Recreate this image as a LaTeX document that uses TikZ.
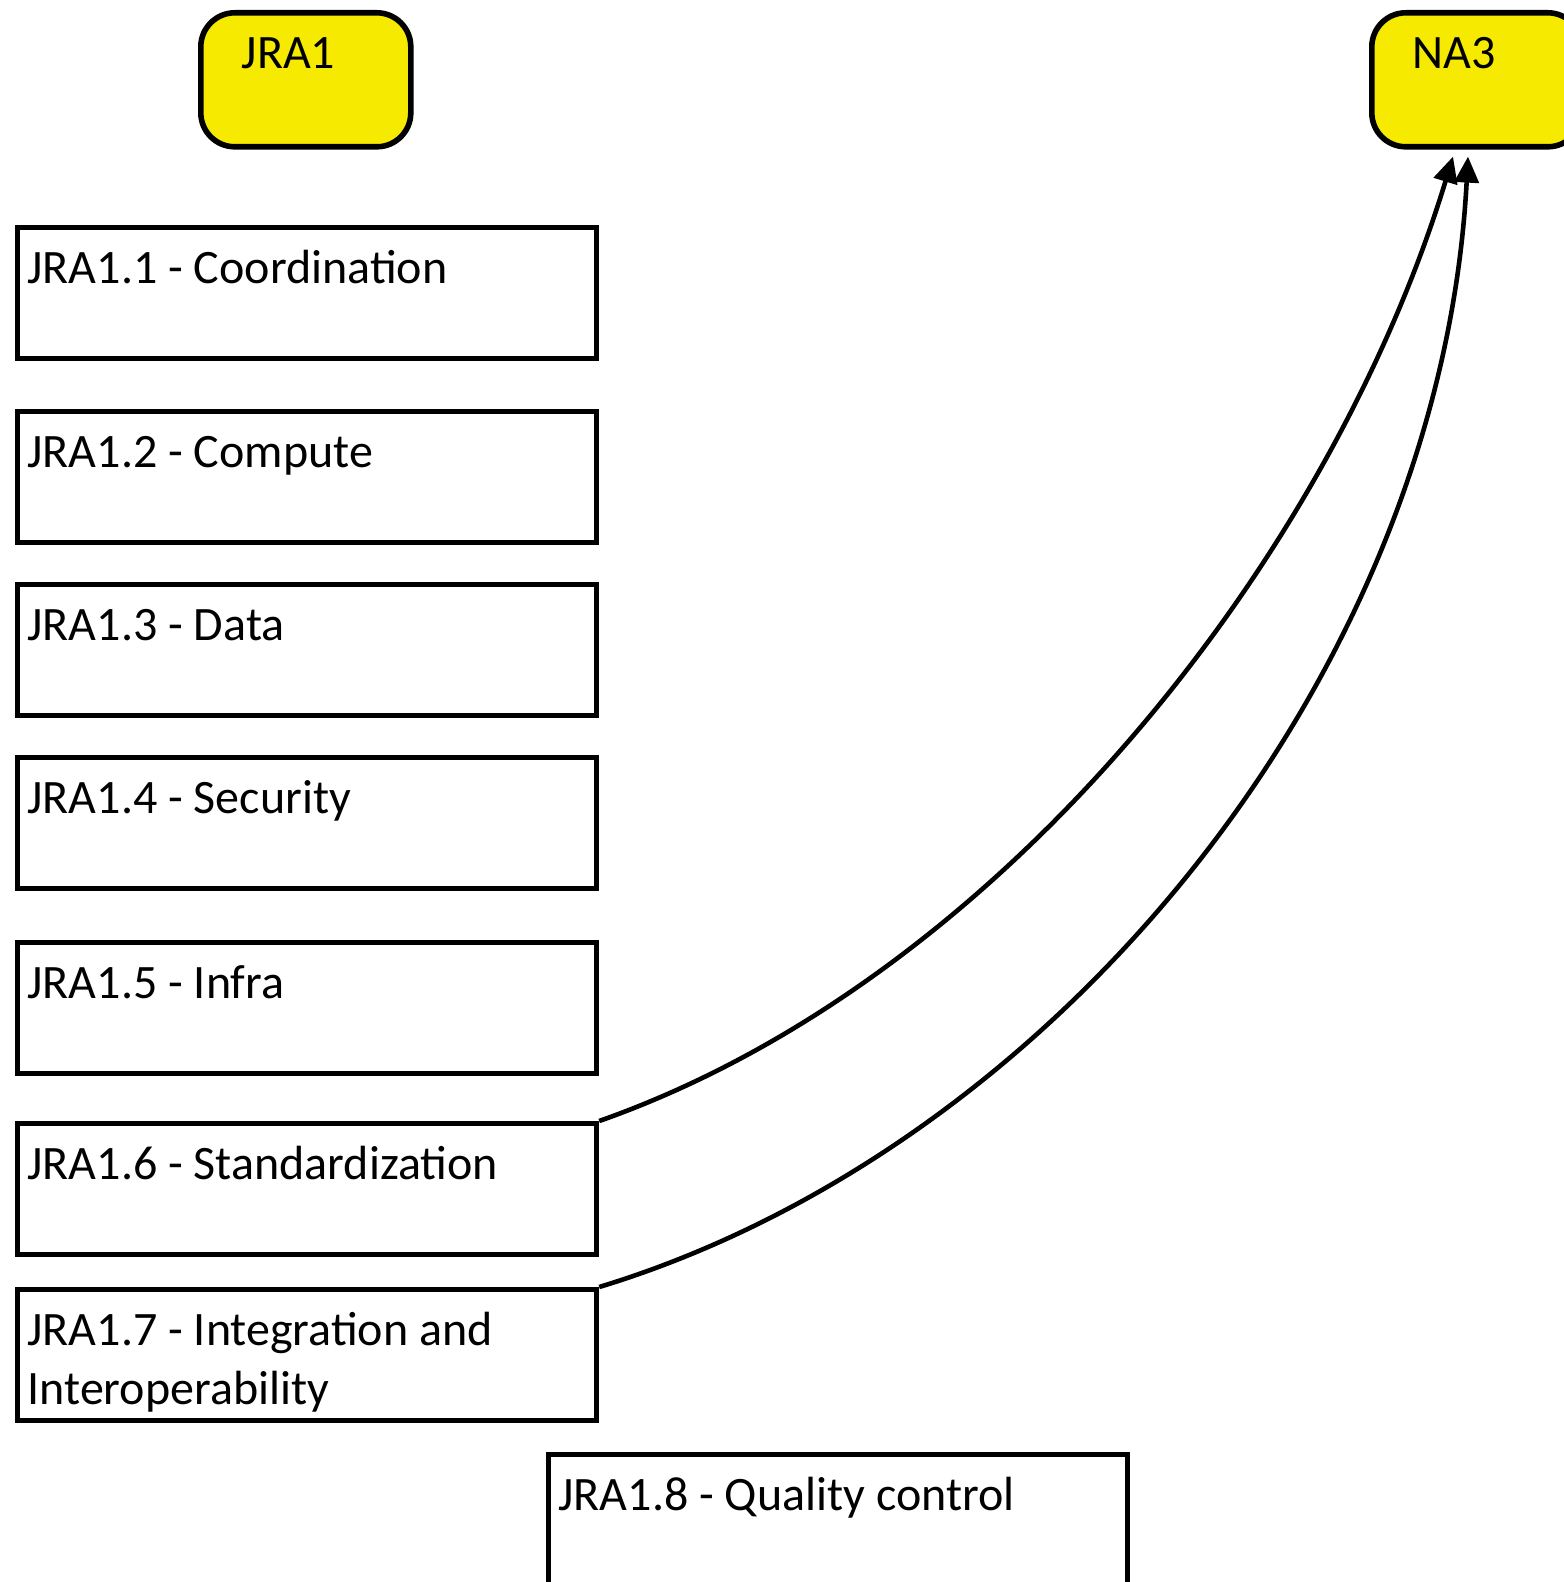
\documentclass[tikz,border=0pt]{standalone}
\usepackage{fontspec}
\setmainfont{Carlito}
\usetikzlibrary{arrows.meta}
\definecolor{grpyellow}{RGB}{245,234,0}
\newcommand{\wptxt}[1]{\parbox[t][65.5pt][t]{289.5pt}{\raggedright\leftskip=5pt\rule{0pt}{28pt}#1}}
\newcommand{\grptxt}[1]{\parbox[t][67pt][t]{105pt}{\leftskip=20.5pt\rule{0pt}{27.75pt}#1}}

\begin{document}
\begin{tikzpicture}[x=0.5pt,y=-0.5pt,>={Triangle[length=13pt,width=12pt]},
  every node/.style={font=\fontsize{24}{29.3}\selectfont},
  wp/.style={draw,line width=2.6pt,anchor=north west,inner sep=0pt},
  grp/.style={draw,fill=grpyellow,rounded corners=17pt,line width=2.8pt,anchor=north west,inner sep=0pt},
  link/.style={->,line width=2.3pt}]

\useasboundingbox (0,0) rectangle (1563,1582);

\node(jra1) at (198,10)[grp] {\grptxt{JRA1}};
\node(na3) at (1369,10)[grp] {\grptxt{NA3}};

\node(j11) at (15,225)[wp] {\wptxt{JRA1.1 - Coordination}};
\node(j12) at (15,409)[wp] {\wptxt{JRA1.2 - Compute}};
\node(j13) at (15,582)[wp] {\wptxt{JRA1.3 - Data}};
\node(j14) at (15,755)[wp] {\wptxt{JRA1.4 - Security}};
\node(j15) at (15,940)[wp] {\wptxt{JRA1.5 - Infra}};
\node(j16) at (15,1121)[wp] {\wptxt{JRA1.6 - Standardization}};
\node(j17) at (15,1287)[wp] {\wptxt{JRA1.7 - Integration and\\Interoperability}};
\node(j18) at (546,1452)[wp] {\wptxt{JRA1.8 - Quality control}};

\draw[link] (j16.north east) .. controls (1000,980) and (1330,560) .. ([xshift=42pt,yshift=-3.5pt]na3.south west);
\draw[link] (j17.north east) .. controls (1050,1150) and (1440,680) .. ([xshift=49.5pt,yshift=-3.5pt]na3.south west);

\end{tikzpicture}
\end{document}
